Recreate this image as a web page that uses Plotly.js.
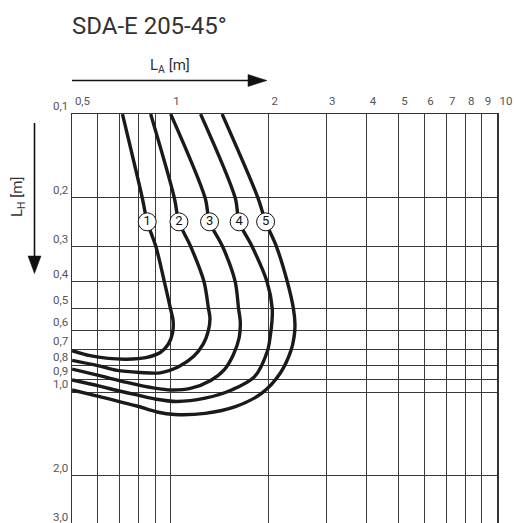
<!DOCTYPE html>
<html>
<head>
<meta charset="utf-8">
<script src="https://cdn.plot.ly/plotly-3.0.1.min.js"></script>
<style>
html, body { margin:0; padding:0; width:516px; height:523px; overflow:hidden; background:#fff; }
#chart { width:516px; height:530px; }
</style>
</head>
<body>
<div id="chart"></div>
<script>
// ---- data ----
const curve1X = [0.713,0.820,0.849,0.903,0.958,1.000,1.019,1.015,0.986,0.931,0.841,0.735,0.645,0.567,0.5];
const curve1Y = [0.1,0.2,0.244,0.3,0.4,0.5,0.552,0.613,0.671,0.720,0.751,0.761,0.756,0.739,0.709];

const curve2X = [0.870,1.028,1.062,1.155,1.267,1.308,1.322,1.305,1.260,1.179,1.059,0.930,0.805,0.687,0.599,0.5];
const curve2Y = [0.1,0.2,0.244,0.3,0.4,0.5,0.543,0.605,0.672,0.743,0.810,0.852,0.849,0.835,0.802,0.768];

const curve3X = [1.002,1.277,1.318,1.446,1.579,1.617,1.637,1.624,1.560,1.463,1.329,1.151,1.004,0.894,0.735,0.607,0.5];
const curve3Y = [0.1,0.2,0.244,0.3,0.4,0.5,0.558,0.637,0.732,0.830,0.907,0.969,0.982,0.967,0.922,0.872,0.826];

const curve4X = [1.237,1.579,1.624,1.781,1.976,2.051,2.046,2.023,1.984,1.807,1.539,1.277,1.045,0.894,0.789,0.687,0.607,0.5];
const curve4Y = [0.1,0.2,0.244,0.3,0.4,0.5,0.558,0.627,0.709,0.881,0.982,1.051,1.080,1.057,1.023,0.986,0.951,0.904];

const curve5X = [1.440,1.854,1.957,2.114,2.280,2.381,2.408,2.390,2.340,2.169,1.906,1.581,1.277,1.031,0.910,0.789,0.607,0.5];
const curve5Y = [0.1,0.2,0.244,0.3,0.4,0.5,0.573,0.637,0.709,0.855,1.008,1.127,1.191,1.203,1.178,1.121,1.037,0.982];

const labelX = [0.849,1.062,1.318,1.624,1.957];
const labelY = [0.244,0.244,0.244,0.244,0.244];
const labelText = ['1','2','3','4','5'];

const xTickVals = [0.5,1,2,3,4,5,6,7,8,9,10];
const xTickText = ['0,5','1','2','3','4','5','6','7','8','9','10'];
const xMinorVals = [0.6,0.7,0.8,0.9];
const yTickVals = [0.1,0.2,0.3,0.4,0.5,0.6,0.7,0.8,0.9,1,2,3];
const yTickText = ['0,1','0,2','0,3','0,4','0,5','0,6','0,7','0,8','0,9','1,0','2,0','3,0'];

const chartTitle = 'SDA-E 205-45°';
const xTitle = 'L<sub>A</sub> [m]';
const yTitle = 'L<sub>H</sub> [m]';

// ---- geometry helpers (layout only) ----
const W = 516, H = 530;
const M = {l:72, r:19, t:114, b:5};
const PW = W - M.l - M.r, PH = H - M.t - M.b;
const px = x => (x - M.l) / PW;       // pixel -> paper x
const py = y => (H - M.b - y) / PH;   // pixel -> paper y

const curves = [[curve1X,curve1Y],[curve2X,curve2Y],[curve3X,curve3Y],[curve4X,curve4Y],[curve5X,curve5Y]];
const traces = curves.map(c => ({
  x: c[0], y: c[1], type:'scatter', mode:'lines',
  line:{color:'#1a1a1a', width:3.4, shape:'spline', smoothing:0.9},
  hoverinfo:'skip', showlegend:false
}));
traces.push({
  x: labelX, y: labelY, type:'scatter', mode:'markers+text',
  text: labelText, textposition:'middle center',
  textfont:{family:'Roboto, sans-serif', size:13, color:'#111'},
  marker:{symbol:'circle', size:18, color:'#ffffff', line:{color:'#111', width:1}},
  hoverinfo:'skip', showlegend:false, cliponaxis:false
});

const tickFamily = 'Roboto, "DejaVu Sans", sans-serif';

const layout = {
  width: W, height: H,
  margin: M,
  paper_bgcolor:'#fff', plot_bgcolor:'#fff',
  showlegend:false,
  title: {text: chartTitle, xref:'container', yref:'container', x: 72/W, xanchor:'left',
          y: 1 - 26/H, yanchor:'middle', font:{family:'Roboto, sans-serif', size:24, color:'#333'}},
  xaxis: {
    type:'log', side:'top',
    range:[Math.log10(0.5)-0.0004, 1.0004],
    tickmode:'array', tickvals:xTickVals, ticktext:xTickText, tickangle:0,
    ticks:'', ticklabelposition:'outside right', ticklabelshift:2, ticklabelstandoff:3,
    tickfont:{family:tickFamily, size:11.5, color:'#555'},
    showgrid:true, gridcolor:'#3a3a3a', gridwidth:1,
    minor:{tickmode:'array', tickvals:xMinorVals, showgrid:true, gridcolor:'#3a3a3a', gridwidth:1, ticks:''},
    showline:true, mirror:true, linecolor:'#333', linewidth:1.5,
    zeroline:false, fixedrange:true
  },
  yaxis: {
    type:'log',
    range:[Math.log10(3)+0.0004, -1.0004],
    tickmode:'array', tickvals:yTickVals, ticktext:yTickText, tickangle:0,
    ticks:'', ticklabelposition:'outside top', ticklabelstandoff:0,
    tickfont:{family:tickFamily, size:11.5, color:'#555'},
    showgrid:true, gridcolor:'#3a3a3a', gridwidth:1,
    showline:true, mirror:true, linecolor:'#333', linewidth:1.5,
    zeroline:false, fixedrange:true
  },
  annotations: [
    {xref:'paper', yref:'paper', x:px(170), y:py(66), text:xTitle, showarrow:false,
     xanchor:'center', yanchor:'middle', font:{family:'Roboto, sans-serif', size:15, color:'#333'}},
    {xref:'paper', yref:'paper', x:px(18), y:py(197), text:yTitle, showarrow:false, textangle:-90,
     xanchor:'center', yanchor:'middle', font:{family:'Roboto, sans-serif', size:15, color:'#333'}}
  ],
  shapes: [
    {type:'line', xref:'paper', yref:'paper', x0:px(72), x1:px(252), y0:py(80.5), y1:py(80.5),
     line:{color:'#111', width:1.6}},
    {type:'path', xref:'paper', yref:'paper',
     path:`M ${px(248)} ${py(74.5)} L ${px(267)} ${py(80.5)} L ${px(248)} ${py(86.5)} Z`,
     fillcolor:'#111', line:{color:'#111', width:0.5}},
    {type:'line', xref:'paper', yref:'paper', x0:px(34.5), x1:px(34.5), y0:py(123), y1:py(259),
     line:{color:'#111', width:1.6}},
    {type:'path', xref:'paper', yref:'paper',
     path:`M ${px(28)} ${py(256)} L ${px(34.5)} ${py(273.5)} L ${px(41)} ${py(256)} Z`,
     fillcolor:'#111', line:{color:'#111', width:0.5}}
  ]
};

Plotly.newPlot('chart', traces, layout, {displayModeBar:false, staticPlot:true});
</script>
</body>
</html>
